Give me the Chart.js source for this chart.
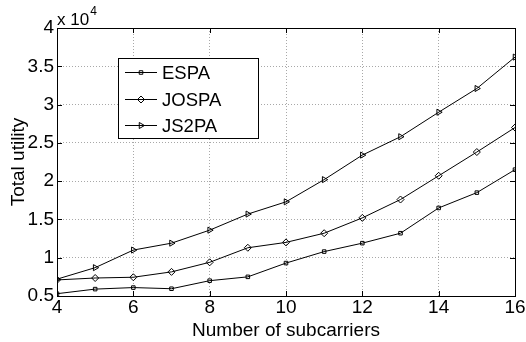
<!DOCTYPE html>
<html>
<head>
<meta charset="utf-8">
<script src="https://cdn.jsdelivr.net/npm/chart.js@4/dist/chart.umd.min.js"></script>
<style>
html,body{margin:0;padding:0;background:#fff;}
#wrap{width:526px;height:342px;position:relative;}
</style>
</head>
<body>
<div id="wrap"><canvas id="c" width="526" height="342"></canvas></div>
<script>
const subcarriers = [4,5,6,7,8,9,10,11,12,13,14,15,16];
const espa  = [5300,5900,6100,5950,7000,7500,9300,10800,11900,13200,16500,18500,21500];
const jospa = [7100,7350,7450,8150,9400,11300,12000,13200,15200,17600,20700,23800,27000];
const js2pa = [7200,8700,11000,11900,13600,15700,17300,20200,23400,25800,29000,32100,36200];
const seriesNames = ['ESPA','JOSPA','JS2PA'];
const xTicks = [4,6,8,10,12,14,16];
const yTicks = [5000,10000,15000,20000,25000,30000,35000,40000];

const FONT = 'Liberation Sans, Arial, Helvetica, sans-serif';

function pts(ys){ return subcarriers.map((x,i)=>({x:x,y:ys[i]})); }

const common = {borderColor:'#000', borderWidth:1, backgroundColor:'rgba(0,0,0,0)', pointBorderColor:'#000', pointBackgroundColor:'rgba(0,0,0,0)', pointBorderWidth:1, tension:0, fill:false};

const frame = {
  id:'frame',
  afterDraw(chart){
    const ctx = chart.ctx, a = chart.chartArea;
    const xs = chart.scales.x, ys = chart.scales.y;
    ctx.save();
    ctx.strokeStyle = '#000'; ctx.lineWidth = 1;
    ctx.strokeRect(Math.round(a.left)+0.5, Math.round(a.top)+0.5, Math.round(a.right-a.left), Math.round(a.bottom-a.top));
    ctx.beginPath();
    xTicks.forEach(v=>{
      const px = Math.round(xs.getPixelForValue(v))+0.5;
      ctx.moveTo(px,a.bottom); ctx.lineTo(px,a.bottom-5);
      ctx.moveTo(px,a.top); ctx.lineTo(px,a.top+5);
    });
    yTicks.forEach(v=>{
      const py = Math.round(ys.getPixelForValue(v))+0.5;
      ctx.moveTo(a.left,py); ctx.lineTo(a.left+5,py);
      ctx.moveTo(a.right,py); ctx.lineTo(a.right-5,py);
    });
    ctx.stroke();
    // exponent label
    ctx.fillStyle = '#000';
    ctx.textBaseline = 'alphabetic';
    ctx.textAlign = 'left';
    ctx.font = '17px ' + FONT;
    ctx.fillText('x 10', a.left, a.top - 3);
    const w = ctx.measureText('x 10').width;
    ctx.font = '12px ' + FONT;
    ctx.fillText('4', a.left + w + 1, a.top - 13);
    // legend
    const bx = 118, by = 58, bw = 140, bh = 80;
    ctx.fillStyle = '#fff';
    ctx.fillRect(bx, by, bw, bh);
    ctx.strokeStyle = '#000';
    ctx.strokeRect(bx+0.5, by+0.5, bw, bh);
    const rows = [72, 99, 125];
    chart.data.datasets.forEach((ds,i)=>{
      const y = rows[i] + 0.5;
      ctx.beginPath();
      ctx.moveTo(125,y); ctx.lineTo(157,y);
      ctx.strokeStyle = '#000'; ctx.lineWidth = 1; ctx.stroke();
      ctx.fillStyle = 'rgba(0,0,0,0)';
      Chart.helpers.drawPoint(ctx, {pointStyle: ds.pointStyle, radius: ds.pointRadius, rotation: ds.pointRotation || 0, borderWidth:1}, 141, y);
      ctx.fillStyle = '#000';
      ctx.font = '18.5px ' + FONT;
      ctx.textBaseline = 'middle';
      ctx.fillText(ds.label, 162, y + 1);
    });
    ctx.restore();
  }
};

new Chart(document.getElementById('c'), {
  type:'line',
  data:{
    datasets:[
      Object.assign({label:seriesNames[0], data:pts(espa), pointStyle:'rect', pointRadius:2.5}, common),
      Object.assign({label:seriesNames[1], data:pts(jospa), pointStyle:'rectRot', pointRadius:3.5}, common),
      Object.assign({label:seriesNames[2], data:pts(js2pa), pointStyle:'triangle', pointRotation:90, pointRadius:3.5}, common)
    ]
  },
  options:{
    responsive:false,
    animation:false,
    devicePixelRatio:1,
    layout:{padding:{left:0, top:28, right:11, bottom:0}},
    plugins:{legend:{display:false}, tooltip:{enabled:false}},
    scales:{
      x:{
        type:'linear', min:4, max:16,
        afterBuildTicks(s){ s.ticks = xTicks.map(v=>({value:v})); },
        afterFit(s){ s.height = 46; },
        grid:{color:'#a8a8a8', lineWidth:1, drawTicks:false},
        border:{display:false, dash:[1,2]},
        ticks:{color:'#000', font:{family:FONT, size:19}, padding:0, maxRotation:0, autoSkip:false},
        title:{display:true, text:'Number of subcarriers', color:'#000', font:{family:FONT, size:19}, padding:{top:-3, bottom:0}}
      },
      y:{
        type:'linear', min:5000, max:40000,
        afterBuildTicks(s){ s.ticks = yTicks.map(v=>({value:v})); },
        afterFit(s){ s.width = 57; },
        grid:{color:'#a8a8a8', lineWidth:1, drawTicks:false},
        border:{display:false, dash:[1,2]},
        ticks:{color:'#000', font:{family:FONT, size:19}, padding:3, callback:v=>String(v/10000)},
        title:{display:true, text:'Total utility', color:'#000', font:{family:FONT, size:19}, padding:{top:7,bottom:0}}
      }
    }
  },
  plugins:[frame]
});
</script>
</body>
</html>
